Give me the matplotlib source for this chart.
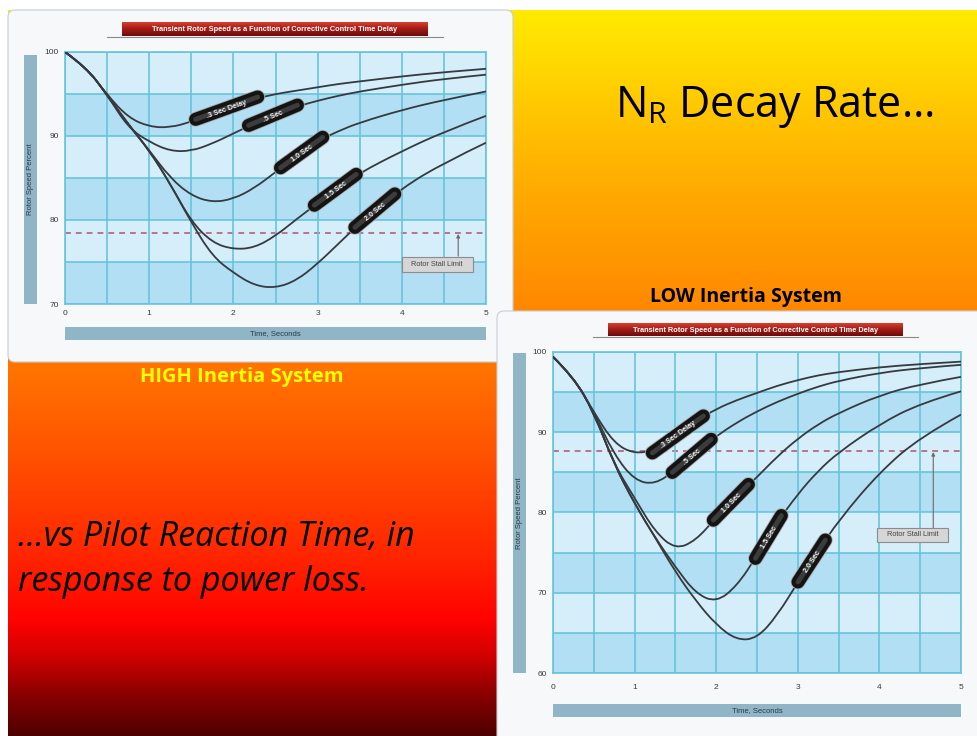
import numpy as np
import matplotlib
matplotlib.use("Agg")
import matplotlib.pyplot as plt
from matplotlib.patches import FancyBboxPatch, Rectangle, PathPatch
from matplotlib.path import Path
from matplotlib.colors import to_rgb

W, H = 977, 736
DPI = 100

# time axis shared by every curve (seconds)
t_sec = [0, 0.25, 0.5, 0.75, 1.0, 1.25, 1.5, 1.75, 2.0, 2.25, 2.5, 2.75,
         3.0, 3.25, 3.5, 4.0, 4.5, 5.0]

delay_names = [".3 Sec Delay", ".5 Sec", "1.0 Sec", "1.5 Sec", "2.0 Sec"]

# high inertia rotor: rotor speed (%) for each corrective-control delay
high_d03 = [100, 98.2, 94.9, 92.2, 91.1, 91.0, 91.7, 92.7, 93.6, 94.4, 95.0, 95.4, 95.8, 96.2, 96.5, 97.1, 97.6, 98.0]
high_d05 = [100, 98.2, 94.9, 91.0, 89.3, 88.2, 88.2, 89.1, 90.3, 91.5, 92.6, 93.5, 94.2, 94.8, 95.3, 96.1, 96.8, 97.3]
high_d10 = [100, 98.2, 94.9, 91.4, 88.3, 85.0, 82.9, 82.1, 82.5, 83.8, 85.7, 87.6, 89.4, 90.6, 91.6, 93.1, 94.3, 95.3]
high_d15 = [100, 98.2, 94.9, 91.4, 88.3, 84.3, 79.8, 77.3, 76.5, 76.7, 78.1, 80.1, 82.0, 83.9, 85.6, 88.2, 90.5, 92.4]
high_d20 = [100, 98.2, 94.9, 91.4, 88.3, 84.3, 79.7, 75.7, 73.7, 72.2, 71.9, 72.8, 74.8, 77.2, 79.6, 83.8, 86.8, 89.2]
high_stall = 78.5
high_label_t = [1.92, 2.47, 2.81, 3.21, 3.68]

# low inertia rotor
low_d03 = [99.4, 96.9, 92.5, 88.6, 87.3, 87.8, 89.5, 91.4, 92.9, 94.0, 94.9, 95.8, 96.5, 97.1, 97.5, 98.1, 98.5, 98.8]
low_d05 = [99.4, 96.9, 92.5, 87.2, 84.0, 83.5, 85.3, 87.5, 89.5, 91.2, 92.6, 93.8, 94.8, 95.7, 96.4, 97.4, 98.0, 98.4]
low_d10 = [99.4, 96.9, 92.5, 86.0, 81.8, 77.6, 75.4, 76.5, 79.4, 82.0, 84.4, 87.0, 89.2, 91.0, 92.4, 94.6, 96.0, 96.9]
low_d15 = [99.4, 96.9, 92.5, 86.0, 81.1, 76.9, 73.2, 69.9, 68.8, 70.8, 74.6, 78.8, 82.3, 85.2, 87.5, 91.0, 93.6, 95.1]
low_d20 = [99.4, 96.9, 92.5, 86.0, 81.1, 76.9, 72.6, 69.0, 66.0, 64.1, 64.3, 67.2, 71.3, 75.2, 79.0, 85.0, 89.4, 92.2]
low_stall = 87.7
low_label_t = [1.53, 1.70, 2.18, 2.64, 3.17]

CHART_TITLE = "Transient Rotor Speed as a Function of Corrective Control Time Delay"

BAND_LIGHT = "#d5eefa"
BAND_DARK = "#b2dff3"
GRID = "#66c4dc"
CURVE = "#363a3f"
STALL = "#b3607c"
BAR = "#8fb5c7"

plt.rcParams["font.family"] = ["Liberation Sans", "DejaVu Sans"]


def vgradient(stops, n=400):
    """Vertical RGB gradient (n x 1 x 3) from (position 0..1, colour) stops."""
    pos = np.linspace(0, 1, n)
    sp = [s[0] for s in stops]
    cols = np.array([to_rgb(s[1]) for s in stops])
    img = np.stack([np.interp(pos, sp, cols[:, k]) for k in range(3)], axis=1)
    return img[:, None, :]


def px_axes(fig, x0, y0, x1, y1):
    return fig.add_axes([x0 / W, 1 - y1 / H, (x1 - x0) / W, (y1 - y0) / H])


def smooth_curve(t, y):
    """Quadratic-spline path using the readings as control points."""
    pts = np.column_stack([t, y])
    verts, codes = [pts[0]], [Path.MOVETO]
    for i in range(1, len(pts) - 1):
        end = (pts[i] + pts[i + 1]) / 2 if i < len(pts) - 2 else pts[i + 1]
        verts += [pts[i], end]
        codes += [Path.CURVE3, Path.CURVE3]
    return Path(verts, codes)


def pill(ax, t, y, tc, text, length_px):
    tr = ax.transData
    p0 = tr.transform((tc - 0.08, np.interp(tc - 0.08, t, y)))
    p1 = tr.transform((tc + 0.08, np.interp(tc + 0.08, t, y)))
    c = tr.transform((tc, np.interp(tc, t, y)))
    d = (p1 - p0) / np.hypot(*(p1 - p0))
    ends = tr.inverted().transform([c - d * length_px / 2, c + d * length_px / 2])
    ang = np.degrees(np.arctan2(d[1], d[0]))
    kw = dict(solid_capstyle="round", clip_on=False)
    ax.plot(ends[:, 0], ends[:, 1], color="#a8a8a8", lw=10.6, zorder=4, **kw)
    ax.plot(ends[:, 0], ends[:, 1], color="#141414", lw=9.4, zorder=5, **kw)
    ax.plot(ends[:, 0], ends[:, 1], color="#3c3c3c", lw=3.5, zorder=5, **kw)
    xc, yc = tc, np.interp(tc, t, y)
    ax.text(xc, yc, text, rotation=ang, rotation_mode="anchor", ha="center",
            va="center_baseline", color="#f0f0f0", fontsize=5.2, fontweight="bold",
            zorder=6)


def draw_chart(ax, curves, ymin, label_t, pill_len, stall, box_xy, arrow_x,
               arrow_y0, xpad):
    ax.set_xlim(0, 5)
    ax.set_ylim(ymin, 100)
    for k, hi in enumerate(range(100, ymin, -5)):
        ax.axhspan(hi - 5, hi, color=BAND_LIGHT if k % 2 == 0 else BAND_DARK,
                   lw=0, zorder=0)
    ax.set_xticks(range(6))
    ax.set_xticks(np.arange(0.5, 5, 1), minor=True)
    ax.set_yticks(range(ymin, 101, 10))
    ax.set_yticks(range(ymin + 5, 100, 10), minor=True)
    ax.grid(which="both", color=GRID, lw=1.2, zorder=1)
    ax.set_axisbelow(False)
    ax.tick_params(which="both", length=0, labelsize=6, colors="#3a3a3a")
    ax.tick_params(axis="y", pad=4.5)
    ax.tick_params(axis="x", pad=xpad)
    for sp in ax.spines.values():
        sp.set_color(GRID)
        sp.set_linewidth(1.2)

    ax.axhline(stall, color=STALL, lw=1.2, ls=(0, (3.5, 3)), zorder=2)

    for y in curves:
        ax.add_patch(PathPatch(smooth_curve(t_sec, y), fc="none", ec=CURVE,
                               lw=1.3, zorder=3))

    for y, tc, name, L in zip(curves, label_t, delay_names, pill_len):
        pill(ax, t_sec, y, tc, name, L)

    ax.annotate("", xy=(arrow_x, stall), xytext=(arrow_x, arrow_y0),
                arrowprops=dict(arrowstyle="-|>", color="#6a6a6a", lw=0.8,
                                mutation_scale=5, shrinkA=0, shrinkB=1),
                zorder=4)
    ax.text(box_xy[0], box_xy[1], "   Rotor Stall Limit   ", ha="center",
            va="center", fontsize=5.3, color="#444444", zorder=6,
            bbox=dict(boxstyle="square,pad=0.5", fc="#d6d6d6", ec="#8c8c8c", lw=0.8))


def chart_frame(ax_bg, title_box, line_span, ybar, xbar):
    # red title banner with a grey rule under it
    x0, y0, x1, y1 = title_box
    ax_bg.plot(line_span, [y1 + 0.5, y1 + 0.5], color="#8a8a8a", lw=0.8, zorder=3)
    ax_bg.imshow(vgradient([(0, "#d8402f"), (0.45, "#a51d18"), (1, "#6d0b0b")], 50),
                 extent=(x0, x1, y1, y0), aspect="auto", zorder=4)
    ax_bg.text((x0 + x1) / 2, (y0 + y1) / 2 + 0.5, CHART_TITLE, ha="center",
               va="center", color="white", fontsize=5.3, fontweight="bold", zorder=5)
    # axis title bars
    bx0, by0, bx1, by1 = ybar
    ax_bg.add_patch(Rectangle((bx0, by0), bx1 - bx0, by1 - by0, fc=BAR, lw=0, zorder=3))
    ax_bg.text((bx0 + bx1) / 2, (by0 + by1) / 2, "Rotor Speed Percent", rotation=90,
               ha="center", va="center", fontsize=5.5, color="#2c3a42", zorder=4)
    bx0, by0, bx1, by1 = xbar
    ax_bg.add_patch(Rectangle((bx0, by0), bx1 - bx0, by1 - by0, fc=BAR, lw=0, zorder=3))
    ax_bg.text((bx0 + bx1) / 2, (by0 + by1) / 2, "Time, Seconds", ha="center",
               va="center", fontsize=5.5, color="#2c3a42", zorder=4)


fig = plt.figure(figsize=(W / DPI, H / DPI), dpi=DPI)
fig.patch.set_facecolor("white")

ax_bg = fig.add_axes([0, 0, 1, 1])
ax_bg.set_axis_off()

# slide background: yellow -> orange -> red -> dark red
slide_grad = vgradient([
    (0.00, "#ffea00"), (0.07, "#ffd900"), (0.15, "#ffc300"), (0.26, "#ffa800"),
    (0.40, "#ff8a00"), (0.50, "#ff7200"), (0.62, "#ff5000"), (0.75, "#ff2600"),
    (0.84, "#ff0300"), (0.89, "#d20000"), (0.94, "#8e0000"), (1.00, "#4e0000"),
])
ax_bg.imshow(slide_grad, extent=(8, W, H, 10), aspect="auto", zorder=0)

# white cards holding the two charts
ax_bg.add_patch(FancyBboxPatch((8, 10), 505, 352, boxstyle="round,pad=0,rounding_size=7",
                               fc="#f6f8fa", ec="#c9ced3", lw=0.8, zorder=1))
ax_bg.add_patch(FancyBboxPatch((497, 311), 500, 440, boxstyle="round,pad=0,rounding_size=7",
                               fc="#f6f8fa", ec="#c9ced3", lw=0.8, zorder=2))

chart_frame(ax_bg, (122, 22, 428, 36), [107, 443], (24, 55, 37, 304), (65, 327, 486, 340))
chart_frame(ax_bg, (608, 323, 903, 336), [593, 918], (513, 353, 526, 673), (553, 704, 961, 717))

ax_bg.text(615, 117, r"N$_{\mathregular{R}}$ Decay Rate…", family="Open Sans",
           fontsize=31, color="black", ha="left", va="baseline", zorder=3)
ax_bg.text(746, 302, "LOW Inertia System", family="Open Sans", fontweight="bold",
           fontsize=14, color="black", ha="center", va="baseline", zorder=3)
ax_bg.text(242, 382, "HIGH Inertia System", family="Open Sans", fontweight="bold",
           fontsize=14.5, color="#ffff00", ha="center", va="baseline", zorder=3)
ax_bg.text(18, 546, "…vs Pilot Reaction Time, in", family="Open Sans", style="italic",
           fontsize=24.5, color="black", ha="left", va="baseline", zorder=3)
ax_bg.text(18, 591, "response to power loss.", family="Open Sans", style="italic",
           fontsize=24.5, color="black", ha="left", va="baseline", zorder=3)

ax_bg.set_xlim(0, W)
ax_bg.set_ylim(H, 0)

ax_high = px_axes(fig, 65, 52, 486, 304)
draw_chart(ax_high, [high_d03, high_d05, high_d10, high_d15, high_d20], 70,
           high_label_t, [66, 53, 52, 52, 52], high_stall, (4.42, 74.7), 4.67, 75.7,
           xpad=4.5)

ax_low = px_axes(fig, 553, 352, 961, 673)
draw_chart(ax_low, [low_d03, low_d05, low_d10, low_d15, low_d20], 60,
           low_label_t, [63, 51, 50, 50, 50], low_stall, (4.41, 77.2), 4.66, 78.1,
           xpad=8)

fig.savefig("out.png", dpi=DPI)
